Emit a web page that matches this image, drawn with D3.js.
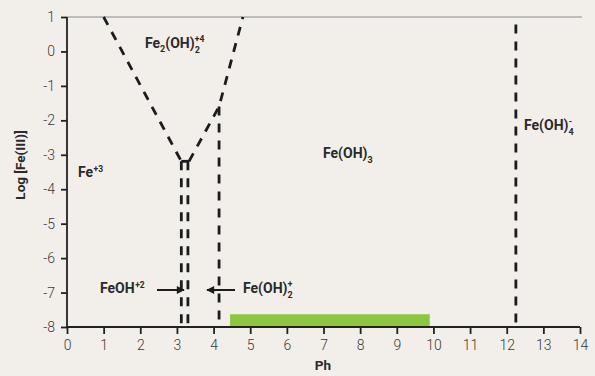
<!DOCTYPE html>
<html><head><meta charset="utf-8">
<script src="https://cdn.jsdelivr.net/npm/d3@7"></script>
<style>
html,body{margin:0;padding:0;background:#f2efea;}
svg{display:block;font-family:Roboto, "DejaVu Sans", sans-serif;}
</style></head>
<body><svg id="c" width="595" height="376"></svg>
<script>
const xTicks = [0,1,2,3,4,5,6,7,8,9,10,11,12,13,14];
const yTicks = [1,0,-1,-2,-3,-4,-5,-6,-7,-8];
// boundary polylines [pH, log]
const leftBranch = [[1.0,1],[3.12,-3.19]];
const capLine = [[3.12,-3.19],[3.33,-3.19]];
const rightBranch = [[3.33,-3.19],[4.15,-1.6],[4.8,1]];
const verticals = [[3.12,-3.19,-8],[3.30,-3.19,-8],[4.15,-1.6,-8],[12.25,0.78,-8]];
const greenRange = [4.45, 9.9];
const greenTop = -7.63;

const svg = d3.select('#c');
const x = d3.scaleLinear().domain([0,14]).range([67,580]);
const y = d3.scaleLinear().domain([-8,1]).range([327,17]);

// top gray line
svg.append('line').attr('x1',x(0)).attr('x2',x(14)+2).attr('y1',y(1)).attr('y2',y(1))
  .attr('stroke','#bdbdbd').attr('stroke-width',2);

// green bar
svg.append('rect').attr('x',x(greenRange[0])).attr('y',y(greenTop))
  .attr('width',x(greenRange[1])-x(greenRange[0])).attr('height',y(-8)-y(greenTop))
  .attr('fill','#8dc63f');

const line = d3.line().x(d=>x(d[0])).y(d=>y(d[1]));
const dashStyle = s => s.attr('fill','none').attr('stroke','#1c1c1c').attr('stroke-width',2.8).attr('stroke-dasharray','9,8');
[leftBranch, rightBranch].forEach(p=>svg.append('path').attr('d',line(p)).call(dashStyle));
svg.append('path').attr('d',line(capLine)).attr('fill','none').attr('stroke','#1c1c1c').attr('stroke-width',2.8);
verticals.forEach(v=>svg.append('path').attr('d',line([[v[0],v[1]],[v[0],v[2]]])).call(dashStyle));

// axes
const yAxis = svg.append('g').attr('transform',`translate(${x(0)},0)`)
  .call(d3.axisLeft(y).tickValues(yTicks).tickSize(6).tickPadding(6).tickFormat(d=>d<0?'-'+Math.abs(d):d));
const xAxis = svg.append('g').attr('transform',`translate(0,${y(-8)})`)
  .call(d3.axisBottom(x).tickValues(xTicks).tickSize(7).tickPadding(6));
[yAxis,xAxis].forEach(a=>{
  a.select('.domain').attr('stroke','#222').attr('stroke-width',1.8);
  a.selectAll('.tick line').attr('stroke','#222').attr('stroke-width',1.8);
  a.selectAll('.tick text').attr('fill','#3a3a3a').attr('font-size',14).attr('font-weight',300).attr('font-family','Roboto');
});
yAxis.select('.domain').attr('d',`M0,${y(-8)}V${y(1)}`);
xAxis.select('.domain').attr('d',`M${x(0)},0H${x(14)}`);

// axis titles
svg.append('text').attr('x',323).attr('y',370).attr('text-anchor','middle')
  .attr('font-size',13.5).attr('font-weight',700).attr('fill','#2a2a2a').text('Ph');
svg.append('text').attr('transform','translate(25,165) rotate(-90)').attr('text-anchor','middle')
  .attr('font-size',13.5).attr('font-weight',700).attr('fill','#2a2a2a').text('Log [Fe(III)]');

// species labels
function label(px, py, parts){
  const t = svg.append('text').attr('x',px).attr('y',py).attr('font-size',14)
    .attr('font-weight',700).attr('fill','#2a2a2a');
  parts.forEach(p=>{
    const s = t.append('tspan').text(p[0]);
    if(p[1]==='sub'){s.attr('font-size',9);}
    else if(p[1]==='sup'){s.attr('font-size',8.5);}
    if(p[2]!==undefined) s.attr('dx',p[2]);
    if(p[3]!==undefined) s.attr('dy',p[3]);
  });
  return t;
}
label(145,48,[['Fe'],['2','sub',0,4],['(OH)',null,0,-4],['2','sub',0,5],['+4','sup',-5,-11]]);
label(78,177,[['Fe'],['+3','sup',0.5,-5]]);
label(100,293,[['FeOH'],['+2','sup',0.5,-5]]);
label(243,293,[['Fe(OH)'],['2','sub',0,5],['+','sup',-5,-11]]);
label(323,158,[['Fe(OH)'],['3','sub',0,5]]);
label(524,130,[['Fe(OH)'],['4','sub',0,5],['-','sup',-5,-11]]);

// arrows
const defs = svg.append('defs');
defs.append('marker').attr('id','ah').attr('viewBox','0 0 10 10').attr('refX',9).attr('refY',5)
  .attr('markerWidth',4.5).attr('markerHeight',4).attr('orient','auto')
  .append('path').attr('d','M0,0L10,5L0,10Z').attr('fill','#1c1c1c');
svg.append('line').attr('x1',157).attr('x2',184).attr('y1',290).attr('y2',290)
  .attr('stroke','#1c1c1c').attr('stroke-width',2).attr('marker-end','url(#ah)');
svg.append('line').attr('x1',235).attr('x2',207).attr('y1',290).attr('y2',290)
  .attr('stroke','#1c1c1c').attr('stroke-width',2).attr('marker-end','url(#ah)');
</script></body></html>
